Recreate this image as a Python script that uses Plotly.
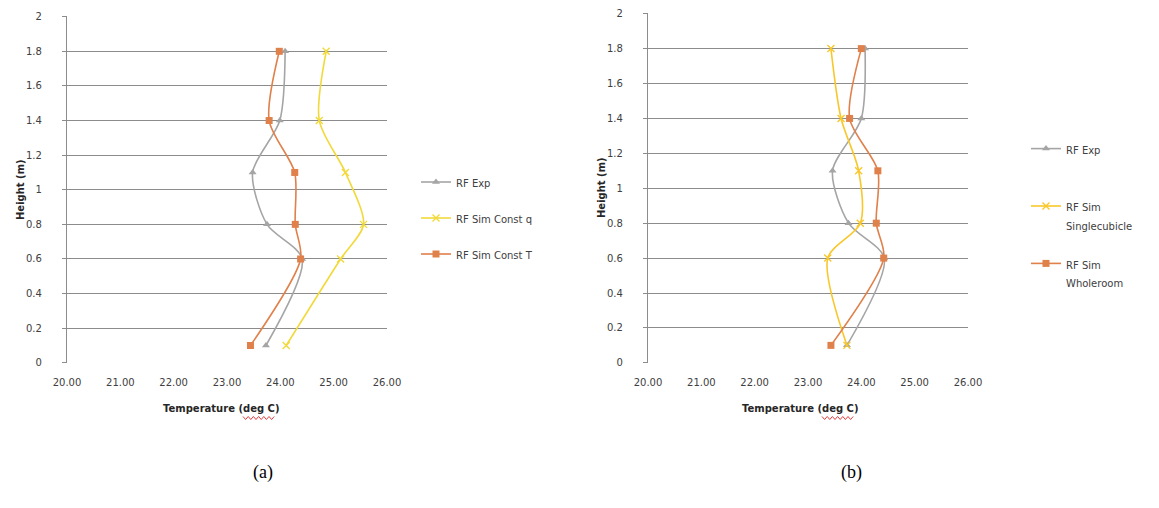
import plotly.graph_objects as go

heights = [0.1, 0.6, 0.8, 1.1, 1.4, 1.8]

# Panel (a)
a_exp = [23.73, 24.41, 23.75, 23.48, 23.99, 24.09]
a_const_q = [24.11, 25.13, 25.56, 25.22, 24.73, 24.86]
a_const_t = [23.44, 24.38, 24.28, 24.27, 23.79, 23.98]

# Panel (b)
b_exp = [23.73, 24.43, 23.76, 23.46, 24.00, 24.07]
b_single = [23.73, 23.37, 23.98, 23.95, 23.62, 23.43]
b_whole = [23.43, 24.42, 24.28, 24.31, 23.78, 24.00]

x_ticks = [20, 21, 22, 23, 24, 25, 26]
y_ticks = [0, 0.2, 0.4, 0.6, 0.8, 1, 1.2, 1.4, 1.6, 1.8, 2]
y_tick_labels = ["0", "0.2", "0.4", "0.6", "0.8", "1", "1.2", "1.4", "1.6", "1.8", "2"]

names_a = ["RF Exp", "RF Sim Const q", "RF Sim Const T"]
names_b = [["RF Exp", " "], ["RF Sim", "Singlecubicle"], ["RF Sim", "Wholeroom"]]

GRAY = "#A5A5A5"
YELLOW = "#F2D93A"
YELLOW_B = "#F9C72A"
ORANGE = "#E0804A"

W, H = 1159, 508

fig = go.Figure()

def small(lines):
    return "<br>".join(f"<span style='font-size:10px'>{t}</span>" for t in lines)

def add_series(x, name, color, symbol, xa, ya, legend, group):
    fig.add_trace(go.Scatter(
        x=x, y=heights, name=name, mode="lines+markers",
        line=dict(color=color, width=1.6, shape="spline", smoothing=0.8),
        marker=dict(color=color, symbol=symbol, size=7,
                    line=dict(color=color, width=1.4) if "x" in symbol else dict(width=0)),
        xaxis=xa, yaxis=ya, legend=legend, legendgroup=group,
    ))

add_series(a_exp, names_a[0], GRAY, "triangle-up", "x", "y", "legend", "a1")
add_series(a_const_q, names_a[1], YELLOW, "x-thin", "x", "y", "legend", "a2")
add_series(a_const_t, names_a[2], ORANGE, "square", "x", "y", "legend", "a3")

add_series(b_exp, small(names_b[0]), GRAY, "triangle-up", "x2", "y2", "legend2", "b1")
add_series(b_single, small(names_b[1]), YELLOW_B, "x-thin", "x2", "y2", "legend2", "b2")
add_series(b_whole, small(names_b[2]), ORANGE, "square", "x2", "y2", "legend2", "b3")

tick_font = dict(family="DejaVu Sans", size=10, color="#404040")
title_font = dict(family="DejaVu Sans", size=10, color="#262626")
legend_font = dict(family="DejaVu Sans", size=10, color="#404040")

def xaxis(domain, anchor):
    return dict(
        domain=domain, anchor=anchor, range=[20, 26], tickvals=x_ticks,
        tickformat=".2f", showgrid=False, zeroline=False, showline=False,
        tickfont=tick_font, ticks="", ticklabelstandoff=12, fixedrange=True,
        automargin=False,
    )

def yaxis(domain, anchor):
    return dict(
        domain=domain, anchor=anchor, range=[-0.001, 2.004], tickvals=y_ticks,
        ticktext=y_tick_labels, showgrid=True, gridcolor="#8C8C8C", gridwidth=1.3,
        zeroline=False, showline=True, linecolor="#8C8C8C", linewidth=1.3,
        ticks="outside", ticklen=4, tickcolor="#8C8C8C", ticklabelstandoff=18,
        tickfont=tick_font, fixedrange=True, automargin=False,
    )

fig.update_layout(
    width=W, height=H, margin=dict(l=0, r=0, t=0, b=0, autoexpand=False),
    paper_bgcolor="white", plot_bgcolor="white",
    xaxis=xaxis([67 / W, 387 / W], "y"),
    yaxis=yaxis([1 - 363 / H, 1 - 16 / H], "x"),
    xaxis2=xaxis([648 / W, 968 / W], "y2"),
    yaxis2=yaxis([1 - 363 / H, 1 - 13 / H], "x2"),
    legend=dict(x=416 / W, y=1 - 169 / H, xanchor="left", yanchor="top",
                font=legend_font, valign="top",
                bgcolor="rgba(0,0,0,0)", tracegroupgap=17, itemwidth=30),
    legend2=dict(x=1026 / W, y=1 - 133 / H, xanchor="left", yanchor="top",
                 font=dict(family="DejaVu Sans", size=14, color="#404040"), valign="top",
                 bgcolor="rgba(0,0,0,0)", tracegroupgap=18, itemwidth=30),
    showlegend=True,
)

# axis titles
for cx in (221, 800):
    fig.add_annotation(text="<b>Temperature (deg C)</b>", x=cx / W, y=1 - 408 / H,
                       xref="paper", yref="paper", showarrow=False,
                       xanchor="center", yanchor="middle", font=title_font)
for ylab_x, cy in [(20, 190), (601, 188)]:
    fig.add_annotation(text="<b>Height (m)</b>", x=ylab_x / W, y=1 - cy / H,
                       xref="paper", yref="paper", showarrow=False, textangle=-90,
                       xanchor="center", yanchor="middle", font=title_font)

# spell-check squiggle under "deg"
def squiggle(x0, y0, n=6, step=2.6, amp=1.5):
    pts = []
    for i in range(n * 2 + 1):
        px = x0 + i * step
        py = y0 + (amp if i % 2 else -amp)
        pts.append(f"{px / W:.5f},{1 - py / H:.5f}")
    return "M " + " L ".join(pts)

for sx in (243, 822):
    fig.add_shape(type="path", path=squiggle(sx, 418), xref="paper", yref="paper",
                  line=dict(color="#E04040", width=1))

fig.add_annotation(text="(a)", x=263 / W, y=1 - 472 / H, xref="paper", yref="paper",
                   showarrow=False, xanchor="center", yanchor="middle",
                   font=dict(family="Liberation Serif", size=18, color="black"))
fig.add_annotation(text="(b)", x=851 / W, y=1 - 472 / H, xref="paper", yref="paper",
                   showarrow=False, xanchor="center", yanchor="middle",
                   font=dict(family="Liberation Serif", size=18, color="black"))

fig.write_html("out.html", post_script="document.body.style.margin='0px';",
               config={"displayModeBar": False})
